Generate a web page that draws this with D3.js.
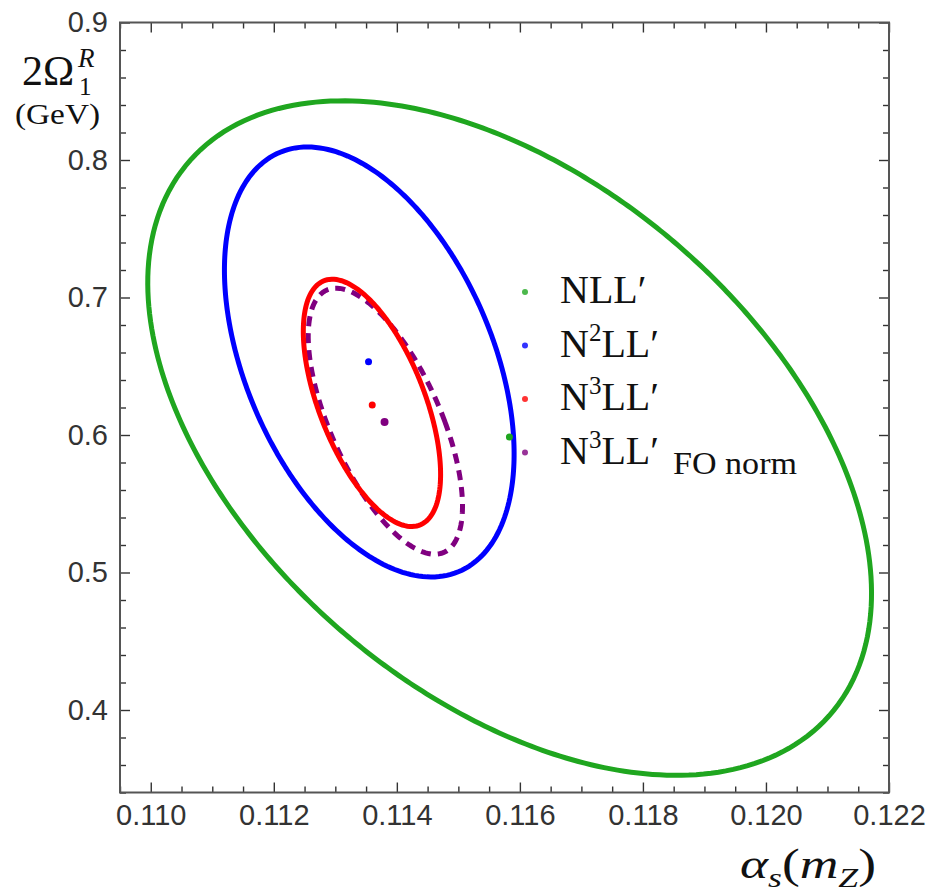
<!DOCTYPE html>
<html>
<head>
<meta charset="utf-8">
<script src="https://cdn.jsdelivr.net/npm/d3@7"></script>
<style>
  body { margin: 0; background: #fff; }
  svg { display: block; }
</style>
</head>
<body>
<div id="chart"></div>
<script>
// contour points: [alpha_s, 2*Omega1]
const nllContour = [
  [0.10997, 0.7033], [0.11021, 0.7658], [0.11086, 0.8095], [0.11195, 0.8349], [0.11330, 0.8415],
  [0.11466, 0.8349], [0.11568, 0.8204], [0.11677, 0.7978], [0.11812, 0.7542], [0.11946, 0.6887],
  [0.12075, 0.6255], [0.12136, 0.5695], [0.12172, 0.4996], [0.12164, 0.4436], [0.12109, 0.3949],
  [0.12028, 0.3709], [0.11856, 0.3556], [0.11703, 0.3636], [0.11568, 0.3847], [0.11411, 0.4167],
  [0.11276, 0.4705], [0.11167, 0.5287], [0.11086, 0.5767], [0.11032, 0.6255], [0.11005, 0.6640]
];
const n2llContour = [
  [0.11117, 0.7258], [0.11136, 0.7687], [0.11179, 0.7978], [0.11247, 0.8080], [0.11330, 0.8000],
  [0.11438, 0.7636], [0.11519, 0.7076], [0.11568, 0.6516], [0.11584, 0.6218], [0.11589, 0.5891],
  [0.11580, 0.5455], [0.11568, 0.5324], [0.11536, 0.5069], [0.11466, 0.4996], [0.11385, 0.5069],
  [0.11287, 0.5360], [0.11222, 0.5695], [0.11170, 0.6218], [0.11141, 0.6640]
];
const n3llContour = [
  [0.11297, 0.7142], [0.11336, 0.7076], [0.11373, 0.6887], [0.11427, 0.6495], [0.11459, 0.6131],
  [0.11469, 0.5767], [0.11459, 0.5455], [0.11425, 0.5302], [0.11373, 0.5455], [0.11320, 0.5767],
  [0.11281, 0.6058], [0.11256, 0.6378], [0.11250, 0.6742], [0.11260, 0.6982]
];
const n3llFoContour = [
  [0.11320, 0.7069], [0.11362, 0.6931], [0.11394, 0.6764], [0.11443, 0.6422], [0.11476, 0.6160],
  [0.11498, 0.5840], [0.11503, 0.5527], [0.11487, 0.5215], [0.11450, 0.5127], [0.11401, 0.5236],
  [0.11362, 0.5476], [0.11320, 0.5796], [0.11287, 0.6058], [0.11265, 0.6378], [0.11255, 0.6713],
  [0.11263, 0.6931], [0.11287, 0.7033]
];
// best fit points
const bestFits = [
  { name: "nll", x: 0.11583, y: 0.5985 },
  { name: "n2ll", x: 0.11354, y: 0.6533 },
  { name: "n3ll", x: 0.11360, y: 0.6218 },
  { name: "n3llfo", x: 0.11380, y: 0.6095 }
];
const xMajorTicks = [0.110, 0.112, 0.114, 0.116, 0.118, 0.120, 0.122];
const yMajorTicks = [0.4, 0.5, 0.6, 0.7, 0.8, 0.9];

const colors = { nll: "#1fa61f", n2ll: "#0000ff", n3ll: "#ff0000", n3llfo: "#800080" };

const width = 934, height = 895;
const m = { left: 120, right: 889, top: 22.5, bottom: 792.5 };

const svg = d3.select("#chart").append("svg")
  .attr("width", width).attr("height", height);

const x = d3.scaleLinear().domain([0.1095, 0.122]).range([m.left, m.right]);
const y = d3.scaleLinear().domain([0.34, 0.9]).range([m.bottom, m.top]);

const xMinor = d3.range(0.1095, 0.12201, 0.0005).filter(v => !xMajorTicks.some(t => Math.abs(t - v) < 1e-7));
const yMinor = d3.range(0.34, 0.9001, 0.02).filter(v => !yMajorTicks.some(t => Math.abs(t - v) < 1e-7));

function addAxis(gen, transform, values, size, labels) {
  const g = svg.append("g").attr("transform", transform)
    .call(gen.tickValues(values).tickSize(size).tickPadding(12)
      .tickFormat(labels ? labels : () => ""));
  g.select(".domain").remove();
  g.selectAll(".tick line").attr("stroke", "#333").attr("stroke-width", 1.4);
  g.selectAll("text").attr("fill", "#333")
    .style("font-family", "'Liberation Sans', Arial, sans-serif").style("font-size", "29px");
  return g;
}

// ticks on all four sides, pointing inward
addAxis(d3.axisBottom(x), `translate(0,${m.bottom})`, xMajorTicks, -10, d3.format(".3f"));
addAxis(d3.axisBottom(x), `translate(0,${m.bottom})`, xMinor, -6);
addAxis(d3.axisTop(x), `translate(0,${m.top})`, xMajorTicks, -10);
addAxis(d3.axisTop(x), `translate(0,${m.top})`, xMinor, -6);
addAxis(d3.axisLeft(y), `translate(${m.left},0)`, yMajorTicks, -10, d3.format(".1f"));
addAxis(d3.axisLeft(y), `translate(${m.left},0)`, yMinor, -6);
addAxis(d3.axisRight(y), `translate(${m.right},0)`, yMajorTicks, -10);
addAxis(d3.axisRight(y), `translate(${m.right},0)`, yMinor, -6);

svg.append("rect")
  .attr("x", m.left).attr("y", m.top)
  .attr("width", m.right - m.left).attr("height", m.bottom - m.top)
  .attr("fill", "none").attr("stroke", "#555").attr("stroke-width", 2);

// least squares conic through the read points (in screen space), so the
// contour comes out as a smooth ellipse instead of following reading noise
function ellipsePath(pts) {
  const px = pts.map(d => [x(d[0]), y(d[1])]);
  const mx = d3.mean(px, p => p[0]), my = d3.mean(px, p => p[1]);
  const M = [0, 1, 2, 3, 4].map(() => [0, 0, 0, 0, 0, 0]);
  px.forEach(([a, b]) => {
    const u = a - mx, v = b - my;
    const r = [u * u, u * v, v * v, u, v];
    for (let i = 0; i < 5; i++) {
      for (let j = 0; j < 5; j++) M[i][j] += r[i] * r[j];
      M[i][5] += r[i];
    }
  });
  // gaussian elimination
  for (let i = 0; i < 5; i++) {
    let p = i;
    for (let k = i + 1; k < 5; k++) if (Math.abs(M[k][i]) > Math.abs(M[p][i])) p = k;
    [M[i], M[p]] = [M[p], M[i]];
    for (let k = i + 1; k < 5; k++) {
      const f = M[k][i] / M[i][i];
      for (let j = i; j < 6; j++) M[k][j] -= f * M[i][j];
    }
  }
  const s = [0, 0, 0, 0, 0];
  for (let i = 4; i >= 0; i--) {
    let acc = M[i][5];
    for (let j = i + 1; j < 5; j++) acc -= M[i][j] * s[j];
    s[i] = acc / M[i][i];
  }
  const [A, B, C, D, E] = s;
  const det = 4 * A * C - B * B;
  const u0 = (B * E - 2 * C * D) / det, v0 = (B * D - 2 * A * E) / det;
  const k = 1 - (A * u0 * u0 + B * u0 * v0 + C * v0 * v0 + D * u0 + E * v0);
  const out = d3.range(0, 2 * Math.PI, Math.PI / 180).map(t => {
    const c = Math.cos(t), sn = Math.sin(t);
    const r = Math.sqrt(k / (A * c * c + B * c * sn + C * sn * sn));
    return [mx + u0 + r * c, my + v0 + r * sn];
  });
  return d3.line().curve(d3.curveLinearClosed)(out);
}

const contours = [
  { key: "nll", pts: nllContour, dash: null },
  { key: "n2ll", pts: n2llContour, dash: null },
  { key: "n3llfo", pts: n3llFoContour, dash: "10,7" },
  { key: "n3ll", pts: n3llContour, dash: null }
];

svg.append("g").selectAll("path")
  .data(contours)
  .join("path")
  .attr("d", d => ellipsePath(d.pts))
  .attr("fill", "none")
  .attr("stroke", d => colors[d.key])
  .attr("stroke-width", 5)
  .attr("stroke-dasharray", d => d.dash);

svg.append("g").selectAll("circle")
  .data(bestFits)
  .join("circle")
  .attr("cx", d => x(d.x)).attr("cy", d => y(d.y))
  .attr("r", d => d.name === "n3llfo" ? 4 : 3.5)
  .attr("fill", d => colors[d.name]);

// legend
const serif = "'Liberation Serif', 'Times New Roman', serif";
const legendItems = [
  { key: "nll", base: "N", sup: "", rest: "LL′", sub: "" },
  { key: "n2ll", base: "N", sup: "2", rest: "LL′", sub: "" },
  { key: "n3ll", base: "N", sup: "3", rest: "LL′", sub: "" },
  { key: "n3llfo", base: "N", sup: "3", rest: "LL′", sub: "FO norm" }
];
const legend = svg.append("g").attr("transform", "translate(525,292)");
const rows = legend.selectAll("g").data(legendItems).join("g")
  .attr("transform", (d, i) => `translate(0,${i * 53.5})`);
rows.append("circle").attr("r", 3).attr("fill", d => colors[d.key]).attr("opacity", 0.8);
const txt = rows.append("text")
  .attr("x", 35).attr("y", 11)
  .style("font-family", serif).style("font-size", "40px").attr("fill", "#111");
txt.append("tspan").text(d => d.base);
txt.filter(d => d.sup).append("tspan").attr("dy", -16).style("font-size", "25px").text(d => d.sup);
txt.append("tspan").attr("dy", d => d.sup ? 16 : 0).text(d => d.rest);
txt.filter(d => d.sub).append("tspan").attr("dy", 10).attr("dx", 14)
  .attr("textLength", 124).attr("lengthAdjust", "spacingAndGlyphs")
  .style("font-size", "31px").text(d => d.sub);

// axis titles
svg.append("text").attr("x", 22).attr("y", 85)
  .style("font-family", serif).style("font-size", "42px").attr("fill", "#111").text("2Ω");
svg.append("text").attr("x", 78).attr("y", 67)
  .style("font-family", serif).style("font-size", "27px").style("font-style", "italic")
  .attr("fill", "#111").text("R");
svg.append("text").attr("x", 79).attr("y", 95)
  .style("font-family", serif).style("font-size", "25px").attr("fill", "#111").text("1");
svg.append("text").attr("x", 15).attr("y", 124)
  .attr("textLength", 85).attr("lengthAdjust", "spacingAndGlyphs")
  .style("font-family", serif).style("font-size", "29px").attr("fill", "#111").text("(GeV)");

const xTitle = svg.append("text").attr("x", 740).attr("y", 878)
  .attr("textLength", 136).attr("lengthAdjust", "spacingAndGlyphs")
  .style("font-family", serif).style("font-size", "42px").attr("fill", "#111");
xTitle.append("tspan").style("font-style", "italic").text("α");
xTitle.append("tspan").attr("dy", 9).style("font-size", "28px").style("font-style", "italic").text("s");
xTitle.append("tspan").attr("dy", -9).text("(");
xTitle.append("tspan").style("font-style", "italic").text("m");
xTitle.append("tspan").attr("dy", 9).style("font-size", "28px").style("font-style", "italic").text("Z");
xTitle.append("tspan").attr("dy", -9).text(")");
</script>
</body>
</html>
